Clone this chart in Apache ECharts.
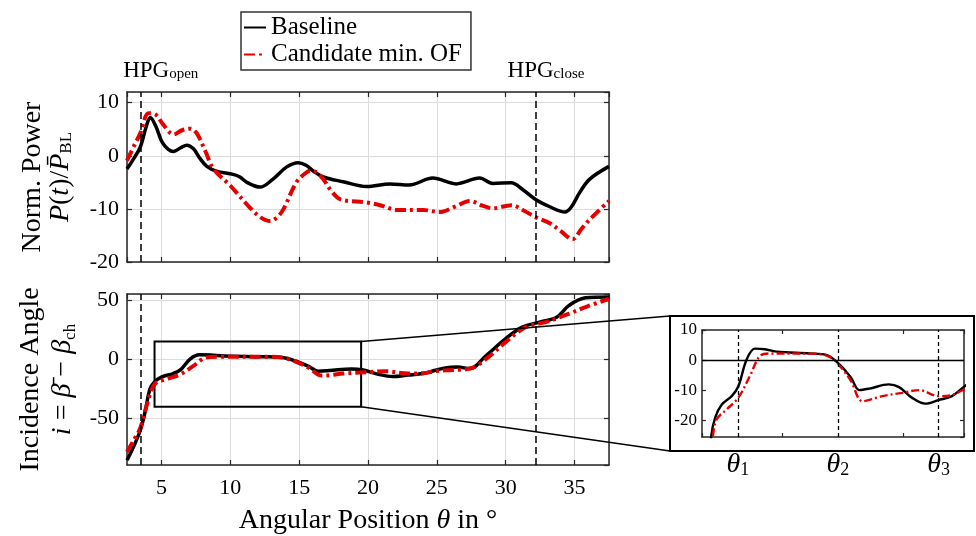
<!DOCTYPE html>
<html><head><meta charset="utf-8">
<script src="https://cdn.jsdelivr.net/npm/echarts@6/dist/echarts.min.js"></script>
<style>html,body{margin:0;padding:0;background:#fff}#c{width:976px;height:536px}</style>
</head><body><div id="c"></div><script>
// ---- data ----
const seriesNames = ['Baseline', 'Candidate min. OF'];
const thetaRange = [2.5, 37.5];
const hpgPositions = [3.5, 32.2];
const hpgLabels = ['open', 'close'];
const powerBaseline = [[2.5,-2.5],[3.0,-0.5],[3.46,1.6],[3.9,5.5],[4.19,7.2],[4.6,5.5],[5.04,2.6],[5.5,1.2],[5.88,0.8],[6.4,1.5],[6.85,2.0],[7.33,1.3],[7.8,-0.5],[8.3,-2.0],[9.0,-2.9],[10.2,-3.5],[10.7,-4.0],[11.2,-5.0],[12.16,-5.9],[13.1,-4.4],[14.1,-2.1],[14.93,-1.3],[15.5,-1.8],[16.1,-3.0],[16.75,-4.0],[18.2,-4.9],[19.9,-5.8],[21.6,-5.3],[23.0,-5.5],[24.7,-4.2],[26.4,-5.3],[28.1,-4.2],[29.06,-5.2],[30.4,-5.1],[31.2,-6.3],[32.2,-8.3],[33.2,-9.6],[34.3,-10.6],[34.75,-9.7],[35.4,-6.8],[36.1,-4.4],[37.5,-2.0]];
const powerCandidate = [[2.5,-0.9],[3.0,1.8],[3.46,4.2],[4.07,8.0],[4.55,7.8],[5.15,5.8],[5.88,4.0],[6.5,4.8],[7.09,5.1],[7.57,4.2],[8.2,0.8],[8.78,-2.5],[9.99,-5.6],[11.4,-9.7],[12.2,-11.6],[12.9,-12.3],[13.4,-11.6],[13.85,-10.1],[14.8,-5.0],[15.5,-3.2],[15.9,-2.8],[16.3,-3.2],[16.75,-4.4],[17.3,-6.5],[18.0,-8.2],[19.9,-8.8],[21.0,-9.4],[22.07,-10.2],[24.0,-10.2],[25.2,-10.6],[26.3,-9.6],[27.4,-8.5],[28.3,-9.4],[29.06,-9.9],[30.4,-9.3],[31.3,-10.3],[32.2,-11.6],[33.2,-12.7],[34.0,-14.2],[34.86,-15.7],[35.5,-13.8],[36.1,-12.0],[37.5,-8.5]];
const incidenceBaseline = [[2.5,-85],[3.0,-73],[3.46,-60],[3.8,-45],[4.16,-25.3],[4.48,-19.2],[5.03,-14.8],[5.85,-12],[6.4,-8.7],[7.08,0.2],[7.76,3.8],[8.58,3.6],[9.54,2.8],[12.27,2.2],[13.64,1.7],[14.73,-1.4],[15.69,-5.9],[16.37,-10],[17.2,-9.5],[18.8,-8.1],[19.65,-9],[20.7,-12.5],[21.8,-14.5],[22.9,-13.3],[24.0,-12],[24.9,-9.2],[25.7,-7.0],[26.5,-6.5],[27.4,-7.8],[28.6,3.4],[30.0,17.4],[31.2,27.1],[32.45,31.3],[33.7,35.5],[34.6,45.4],[35.8,51.8],[37.5,52.4]];
const incidenceCandidate = [[2.5,-78],[3.0,-68],[3.46,-58],[3.9,-40],[4.3,-25.3],[4.6,-19.8],[5.44,-16.4],[6.4,-12.5],[7.35,-5.3],[8.17,1.3],[9.0,2.2],[12.8,2.1],[14.05,0.8],[14.87,-2.5],[15.69,-7],[16.64,-13.7],[18.28,-12],[19.9,-10.9],[21.3,-10],[22.9,-12],[24.0,-11.7],[24.9,-10],[25.7,-9.2],[27.4,-7.8],[28.6,0.6],[30.0,14.5],[31.45,27.1],[32.9,31.3],[34.6,38.4],[35.8,44],[37.5,51]];
const zoomBox = {x: [4.5, 19.5], y: [-40, 15]};
const insetX = [3.4, 25];
const insetY = [-25.6, 10];
const thetaMarks = [6.35, 14.6, 22.9];
const thetaNames = ['1', '2', '3'];

// ---- styling ----
const FONT = 'Liberation Serif, Times New Roman, serif';
const BLACK = '#000000', RED = '#e50000', AXC = '#262626', GRIDC = '#dcdcdc';

function xAx(grid, pos, min, max, split, opts) {
  return Object.assign({
    type: 'value', gridIndex: grid, position: pos, min: min, max: max, splitNumber: split,
    axisLine: {show: true, onZero: false, lineStyle: {color: AXC, width: 1.5}},
    axisTick: {show: true, inside: true, length: 5, lineStyle: {color: AXC, width: 1.2}},
    axisLabel: {show: false},
    splitLine: {show: false}
  }, opts || {});
}
function yAx(grid, pos, min, max, opts) {
  return Object.assign({
    type: 'value', gridIndex: grid, position: pos, min: min, max: max,
    axisLine: {show: true, onZero: false, lineStyle: {color: AXC, width: 1.5}},
    axisTick: {show: true, inside: true, length: 5, lineStyle: {color: AXC, width: 1.2}},
    axisLabel: {show: false},
    splitLine: {show: false}
  }, opts || {});
}
const tickLbl = (size) => ({show: true, color: '#000', fontFamily: FONT, fontSize: size, showMinLabel: false, showMaxLabel: false});
function makeRich(lh) {
  return {
    a: {fontFamily: FONT, fontSize: 28, color: '#000', lineHeight: lh},
    i: {fontFamily: FONT, fontSize: 28, fontStyle: 'italic', color: '#000', lineHeight: lh},
    s: {fontFamily: FONT, fontSize: 17, color: '#000', verticalAlign: 'bottom', lineHeight: lh}
  };
}
const smallTick = {show: true, inside: true, length: 4, lineStyle: {color: AXC, width: 1.2}};

const dashV = {color: BLACK, type: [7, 4], width: 1.5};

const option = {
  animation: false,
  backgroundColor: '#fff',
  legend: {
    data: seriesNames, left: 241, top: 12, orient: 'vertical', itemGap: 2,
    itemWidth: 22, itemHeight: 12, padding: [3, 9, 3, 2],
    borderColor: '#333', borderWidth: 1.5,
    itemStyle: {opacity: 0},
    textStyle: {fontFamily: FONT, fontSize: 25, color: '#000'}
  },
  grid: [
    {left: 127, top: 92, width: 482, height: 170},
    {left: 127, top: 294, width: 482, height: 171},
    {left: 702, top: 330, width: 262, height: 107}
  ],
  xAxis: [
    xAx(0, 'bottom', thetaRange[0], thetaRange[1], 7, {splitLine: {show: true, lineStyle: {color: GRIDC, width: 1}}}),
    xAx(0, 'top', thetaRange[0], thetaRange[1], 7),
    xAx(1, 'bottom', thetaRange[0], thetaRange[1], 7, {
      splitLine: {show: true, lineStyle: {color: GRIDC, width: 1}},
      axisLabel: Object.assign(tickLbl(22), {margin: 12}),
      name: '{a|Angular Position }{i|θ}{a| in °}', nameLocation: 'middle', nameGap: 40,
      nameTextStyle: {rich: makeRich(32)}
    }),
    xAx(1, 'top', thetaRange[0], thetaRange[1], 7),
    xAx(2, 'bottom', insetX[0], insetX[1], 2, {axisTick: smallTick}),
    xAx(2, 'top', insetX[0], insetX[1], 2, {axisTick: smallTick})
  ],
  yAxis: [
    yAx(0, 'left', -20, 12, {interval: 10,
      splitLine: {show: true, lineStyle: {color: GRIDC, width: 1}},
      axisLabel: Object.assign(tickLbl(22), {showMinLabel: true, margin: 8}),
      name: '{a|Norm. Power}\n{i|P}{a|(}{i|t}{a|)/}{i|P̄}{s|BL}', nameLocation: 'middle', nameRotate: 90, nameGap: 52,
      nameTextStyle: {rich: makeRich(28)}
    }),
    yAx(0, 'right', -20, 12, {interval: 10}),
    yAx(1, 'left', -89, 55, {splitNumber: 3,
      splitLine: {show: true, lineStyle: {color: GRIDC, width: 1}},
      axisLabel: Object.assign(tickLbl(22), {margin: 8}),
      name: '{a|Incidence Angle}\n{i|i}{a| = }{i|β̄}{a| − }{i|β}{s|ch}', nameLocation: 'middle', nameRotate: 90, nameGap: 48,
      nameTextStyle: {rich: makeRich(32)}
    }),
    yAx(1, 'right', -89, 55, {splitNumber: 3}),
    yAx(2, 'left', insetY[0], insetY[1], {splitNumber: 4, axisTick: smallTick,
      axisLabel: Object.assign(tickLbl(17), {showMaxLabel: true, margin: 5})
    }),
    yAx(2, 'right', insetY[0], insetY[1], {splitNumber: 4, axisTick: smallTick})
  ],
  series: [
    {
      name: seriesNames[0], type: 'line', xAxisIndex: 0, yAxisIndex: 0, data: powerBaseline,
      smooth: 0.35, symbol: 'none', lineStyle: {color: BLACK, width: 3.5}, itemStyle: {color: BLACK}, z: 3,
      markLine: {
        symbol: 'none', silent: true, lineStyle: dashV, animation: false,
        data: hpgPositions.map((v, k) => ({
          xAxis: v,
          label: {show: true, position: 'end', distance: 10, offset: [k === 0 ? 20 : 10, 0],
            formatter: '{h|HPG}{s|' + hpgLabels[k] + '}',
            rich: {h: {fontFamily: FONT, fontSize: 23, color: '#000'}, s: {fontFamily: FONT, fontSize: 15, color: '#000', verticalAlign: 'bottom', padding: [8, 0, 0, 0]}}}
        }))
      }
    },
    {
      name: seriesNames[1], type: 'line', xAxisIndex: 0, yAxisIndex: 0, data: powerCandidate,
      smooth: 0.35, symbol: 'none', lineStyle: {color: RED, width: 4, type: [11, 4, 3, 4]}, itemStyle: {color: RED}, z: 4
    },
    {
      name: seriesNames[0], type: 'line', xAxisIndex: 2, yAxisIndex: 2, data: incidenceBaseline,
      smooth: 0.35, symbol: 'none', lineStyle: {color: BLACK, width: 3.5}, itemStyle: {color: BLACK}, z: 3,
      markLine: {
        symbol: 'none', silent: true, lineStyle: dashV, label: {show: false}, animation: false,
        data: hpgPositions.map(v => ({xAxis: v}))
      },
      markArea: {
        silent: true,
        itemStyle: {color: 'rgba(0,0,0,0)', borderColor: '#000', borderWidth: 2},
        data: [[{coord: [zoomBox.x[0], zoomBox.y[1]]}, {coord: [zoomBox.x[1], zoomBox.y[0]]}]]
      }
    },
    {
      name: seriesNames[1], type: 'line', xAxisIndex: 2, yAxisIndex: 2, data: incidenceCandidate,
      smooth: 0.35, symbol: 'none', lineStyle: {color: RED, width: 4, type: [11, 4, 3, 4]}, itemStyle: {color: RED}, z: 4
    },
    {
      name: seriesNames[0], type: 'line', xAxisIndex: 4, yAxisIndex: 4, data: incidenceBaseline,
      smooth: 0.35, symbol: 'none', lineStyle: {color: BLACK, width: 2.4}, itemStyle: {color: BLACK}, z: 3,
      markLine: {
        symbol: 'none', silent: true, animation: false,
        data: thetaMarks.map((v, k) => ({
          xAxis: v, lineStyle: {color: BLACK, type: [4, 3], width: 1.3},
          label: {show: true, position: 'start', distance: 14, formatter: '{t|θ}{s|' + thetaNames[k] + '}',
            rich: {t: {fontFamily: FONT, fontSize: 28, fontStyle: 'italic', color: '#000'}, s: {fontFamily: FONT, fontSize: 18, color: '#000', verticalAlign: 'bottom', padding: [10, 0, 0, 0]}}}
        })).concat([{yAxis: 0, lineStyle: {color: BLACK, type: 'solid', width: 1.3}, label: {show: false}}])
      }
    },
    {
      name: seriesNames[1], type: 'line', xAxisIndex: 4, yAxisIndex: 4, data: incidenceCandidate,
      smooth: 0.35, symbol: 'none', lineStyle: {color: RED, width: 2.4, type: [8, 3, 2, 3]}, itemStyle: {color: RED}, z: 4
    }
  ]
};

const chart = echarts.init(document.getElementById('c'), null, {renderer: 'canvas'});
chart.setOption(option);

// zoom connectors and inset frame
const tr = chart.convertToPixel({xAxisIndex: 2, yAxisIndex: 2}, [zoomBox.x[1], zoomBox.y[1]]);
const br = chart.convertToPixel({xAxisIndex: 2, yAxisIndex: 2}, [zoomBox.x[1], zoomBox.y[0]]);
const frame = {x: 670, y: 316, w: 304, h: 135};
chart.setOption({
  graphic: [
    {type: 'rect', shape: {x: frame.x, y: frame.y, width: frame.w, height: frame.h}, style: {fill: 'none', stroke: '#000', lineWidth: 2}, z: 10},
    {type: 'line', shape: {x1: tr[0], y1: tr[1], x2: frame.x, y2: frame.y}, style: {stroke: '#000', lineWidth: 1.5}, z: 10},
    {type: 'line', shape: {x1: br[0], y1: br[1], x2: frame.x, y2: frame.y + frame.h}, style: {stroke: '#000', lineWidth: 1.5}, z: 10}
  ]
});
</script></body></html>
